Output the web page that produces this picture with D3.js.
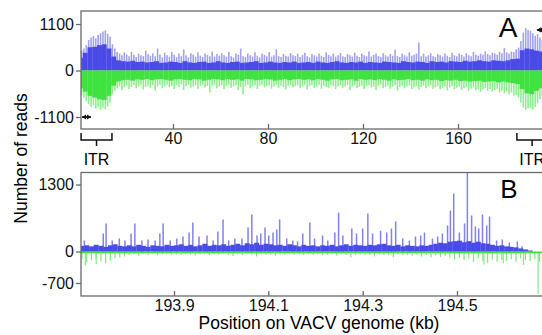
<!DOCTYPE html>
<html>
<head>
<meta charset="utf-8">
<script src="https://cdn.jsdelivr.net/npm/d3@7"></script>
<style>
  body { margin: 0; background: #fff; }
  svg { display: block; font-family: Arial, "Liberation Sans", sans-serif; }
</style>
</head>
<body>
<div id="chart"></div>
<script>
// Panel A: whole genome. Spike tops per 1 kb bin, dense core per 2 kb bin (reads)
const aTicksX = [40, 80, 120, 160];
const aTicksY = [-1100, 0, 1100];

const aPlusPeak = [
  450, 480, 520, 600, 720, 780, 820, 760, 840, 880,
  920, 950, 870, 800, 620, 520, 440, 400, 360, 430,
  380, 340, 440, 370, 320, 400, 360, 340, 470, 390,
  350, 400, 340, 520, 380, 310, 420, 360, 330, 440,
  370, 320, 400, 340, 500, 360, 310, 410, 380, 330,
  430, 350, 320, 400, 370, 340, 450, 330, 390, 350,
  410, 360, 330, 440, 340, 310, 400, 370, 520, 340,
  320, 400, 360, 330, 430, 350, 310, 400, 370, 340,
  440, 330, 360, 500, 340, 320, 390, 350, 330, 410,
  360, 340, 400, 320, 370, 420, 340, 310, 390, 360,
  330, 400, 350, 320, 430, 370, 340, 400, 330, 360,
  410, 340, 320, 390, 360, 330, 420, 350, 320, 400,
  360, 340, 450, 330, 370, 400, 340, 320, 410, 360,
  330, 390, 350, 490, 340, 320, 400, 360, 330, 430,
  350, 370, 400, 660, 340, 400, 330, 360, 410, 340,
  320, 390, 360, 330, 400, 350, 320, 420, 360, 340,
  400, 370, 330, 410, 360, 340, 440, 380, 350, 400,
  370, 450, 390, 360, 420, 400, 370, 440, 410, 530,
  430, 400, 450, 440, 500, 540, 700, 900, 1000, 960,
  940, 880, 820, 860, 780, 720
];
const aPlusCore = [
  300, 420, 550, 560, 600, 620, 520, 330, 240, 220,
  210, 230, 200, 210, 190, 200, 220, 180, 190, 210,
  200, 180, 220, 190, 180, 200, 210, 180, 190, 220,
  190, 180, 200, 210, 180, 190, 200, 220, 180, 190,
  210, 190, 180, 200, 190, 210, 180, 190, 200, 180,
  210, 190, 180, 200, 220, 190, 180, 200, 190, 210,
  180, 200, 190, 180, 210, 200, 190, 180, 220, 200,
  190, 210, 200, 180, 220, 200, 210, 190, 220, 210,
  200, 230, 210, 220, 240, 220, 210, 240, 230, 220,
  240, 270, 280, 480, 520, 500, 470, 450
];
const aMinusPeak = [
  -560, -600, -640, -720, -800, -860, -820, -900, -860, -930,
  -880, -920, -850, -760, -560, -480, -420, -380, -460, -400,
  -360, -440, -390, -350, -420, -380, -340, -450, -390, -360,
  -410, -350, -480, -380, -340, -420, -370, -330, -400, -360,
  -440, -350, -390, -330, -460, -370, -340, -410, -380, -350,
  -430, -360, -340, -400, -370, -520, -360, -340, -420, -380,
  -350, -440, -370, -340, -410, -380, -350, -460, -390, -570,
  -370, -340, -420, -380, -350, -440, -360, -340, -400, -370,
  -350, -430, -380, -340, -410, -360, -390, -450, -360, -340,
  -400, -370, -350, -420, -380, -340, -450, -370, -350, -410,
  -380, -340, -430, -360, -390, -420, -350, -370, -440, -380,
  -350, -410, -370, -340, -460, -380, -350, -420, -390, -360,
  -440, -370, -350, -400, -380, -460, -360, -340, -420, -390,
  -360, -430, -380, -350, -470, -390, -360, -420, -380, -350,
  -440, -400, -370, -450, -390, -360, -420, -380, -350, -430,
  -400, -370, -450, -420, -380, -470, -400, -370, -440, -410,
  -380, -460, -420, -390, -480, -430, -400, -470, -440, -500,
  -450, -420, -480, -440, -500, -460, -430, -520, -480, -540,
  -500, -560, -520, -600, -580, -640, -760, -880, -930, -900,
  -880, -920, -860, -780, -680, -620
];
const aMinusCore = [
  -420, -500, -600, -640, -680, -700, -600, -360, -260, -230,
  -220, -240, -210, -220, -200, -230, -210, -200, -220, -240,
  -210, -200, -220, -230, -200, -210, -240, -220, -200, -210,
  -230, -200, -220, -210, -240, -200, -210, -230, -220, -200,
  -210, -240, -220, -200, -230, -210, -200, -220, -210, -230,
  -200, -220, -240, -210, -200, -230, -220, -210, -240, -200,
  -220, -210, -230, -200, -220, -240, -210, -230, -220, -200,
  -230, -220, -240, -210, -230, -220, -250, -230, -240, -220,
  -250, -240, -260, -250, -240, -270, -260, -250, -280, -260,
  -280, -300, -320, -440, -540, -560, -480, -420
];
const itrRegions = [[1.3, 14.3], [184.8, 197.6]];
const aArrows = [
  { from: 1.7, to: 5.5, reads: -1100 },
  { from: 193.2, to: 196.5, reads: 960 }
];

// Panel B: zoom on the right end, base coverage per 0.01 kb bin plus single peaks
const bTicksX = [193.9, 194.1, 194.3, 194.5];
const bTicksY = [-700, 0, 1300];
const bBinStart = 193.70;
const bBinSize = 0.01;
const bPlusBase = [
  110, 120, 100, 130, 110, 90, 120, 140, 110, 100,
  120, 100, 130, 110, 90, 120, 110, 100, 130, 110,
  120, 140, 110, 130, 100, 120, 150, 110, 130, 120,
  140, 110, 130, 150, 120, 160, 140, 170, 130, 150,
  140, 120, 130, 110, 140, 120, 100, 130, 110, 120,
  100, 120, 110, 130, 100, 120, 140, 110, 130, 120,
  110, 130, 120, 140, 150, 120, 110, 130, 100, 120,
  110, 100, 120, 110, 130, 150, 170, 160, 190, 200,
  210, 180, 200, 170, 190, 160, 150, 130, 110, 120,
  100, 90, 80, 60, 40, 20
];
const bMinusBase = [
  -180, -240, -200, -160, -220, -260, -200, -150, -130, -110,
  -80, -60, -90, -50, -70, -40, -80, -60, -50, -70,
  -60, -80, -50, -70, -90, -60, -50, -80, -60, -70,
  -50, -70, -100, -60, -80, -50, -70, -110, -60, -80,
  -70, -90, -60, -80, -50, -70, -60, -80, -50, -70,
  -60, -80, -70, -50, -90, -60, -80, -130, -70, -60,
  -80, -70, -110, -60, -80, -70, -120, -60, -80, -70,
  -90, -70, -110, -80, -130, -90, -120, -100, -140, -180,
  -140, -190, -160, -230, -150, -210, -250, -170, -230, -190,
  -210, -170, -230, -150, -190, -210, -170, -230, -190, -140
];
const bSpikePos = [
  193.710, 193.750, 193.756, 193.769, 193.784, 193.796, 193.809, 193.817, 193.832, 193.845,
  193.860, 193.870, 193.877, 193.892, 193.906, 193.919, 193.932, 193.940, 193.953, 193.970,
  193.983, 193.993, 194.004, 194.016, 194.029, 194.044, 194.057, 194.065, 194.076, 194.084,
  194.093, 194.101, 194.110, 194.118, 194.124, 194.139, 194.152, 194.162, 194.173, 194.188,
  194.198, 194.215, 194.226, 194.241, 194.249, 194.258, 194.277, 194.287, 194.300, 194.311,
  194.321, 194.338, 194.351, 194.361, 194.370, 194.385, 194.399, 194.412, 194.423, 194.431,
  194.448, 194.459, 194.469, 194.480, 194.486, 194.493, 194.505, 194.516, 194.522, 194.531,
  194.539, 194.546, 194.554, 194.563, 194.569, 194.584, 194.596, 194.611, 194.628, 194.638
];
const bSpikeVal = [
  215, 350, 545, 215, 250, 215, 350, 545, 215, 235,
  215, 350, 545, 215, 250, 290, 370, 565, 290, 310,
  215, 390, 620, 215, 250, 250, 465, 720, 310, 350,
  465, 310, 370, 425, 620, 250, 215, 195, 350, 565,
  250, 310, 215, 370, 755, 310, 445, 350, 445, 735,
  350, 405, 370, 445, 580, 250, 215, 290, 310, 370,
  250, 290, 350, 505, 795, 1125, 370, 545, 1530, 700,
  485, 445, 720, 505, 680, 215, 235, 175, 195, 100
];
const bMinusSpikePos = [193.712, 193.735, 194.557, 194.598, 194.641, 194.672];
const bMinusSpikeVal = [-310, -280, -290, -260, -300, -940];

const W = 542, H = 335;
const boxA = { left: 81, right: 560, top: 11, bottom: 129 };
const boxB = { left: 81, right: 560, top: 172.5, bottom: 296 };

const svg = d3.select('#chart').append('svg')
  .attr('width', W)
  .attr('height', H);

const xA = d3.scaleLinear().domain([0, 200]).range([78, 553]);
const yA = d3.scaleLinear().domain([-1100, 1100]).range([117, 24]);
const xB = d3.scaleLinear().domain([193.9, 194.5]).range([174, 457]);
const yB = d3.scaleLinear().domain([-700, 0, 1300]).range([283, 251.5, 184.5]);

const defs = svg.append('defs');
[['clipA', boxA], ['clipB', boxB]].forEach(([id, b]) => {
  defs.append('clipPath').attr('id', id)
    .append('rect')
    .attr('x', b.left).attr('y', b.top)
    .attr('width', b.right - b.left).attr('height', b.bottom - b.top);
});

// ---- panel A bars: thin light spikes, solid core on top
const gA = svg.append('g').attr('clip-path', 'url(#clipA)');
const binA = xA(1) - xA(0);

gA.selectAll('.a-plus-peak').data(aPlusPeak).join('line')
  .attr('x1', (d, i) => xA(i) + binA / 2).attr('x2', (d, i) => xA(i) + binA / 2)
  .attr('y1', yA(0)).attr('y2', d => yA(d))
  .attr('stroke', '#a2a2f1').attr('stroke-width', 1.6);
gA.selectAll('.a-minus-peak').data(aMinusPeak).join('line')
  .attr('x1', (d, i) => xA(i) + binA / 2).attr('x2', (d, i) => xA(i) + binA / 2)
  .attr('y1', yA(0)).attr('y2', d => yA(d))
  .attr('stroke', '#8eee8e').attr('stroke-width', 1.6);
gA.selectAll('.a-plus-core').data(aPlusCore).join('rect')
  .attr('x', (d, i) => xA(2 * i)).attr('width', 2 * binA + 0.2)
  .attr('y', d => yA(d)).attr('height', d => yA(0) - yA(d))
  .attr('fill', '#4a4ae6');
gA.selectAll('.a-minus-core').data(aMinusCore).join('rect')
  .attr('x', (d, i) => xA(2 * i)).attr('width', 2 * binA + 0.2)
  .attr('y', yA(0)).attr('height', d => yA(d) - yA(0))
  .attr('fill', '#3fe23f');

// ---- panel B bars
const gB = svg.append('g').attr('clip-path', 'url(#clipB)');
const binB = xB(bBinStart + bBinSize) - xB(bBinStart);

gB.selectAll('.b-minus').data(bMinusBase).join('line')
  .attr('x1', (d, i) => xB(bBinStart + i * bBinSize) + binB / 2)
  .attr('x2', (d, i) => xB(bBinStart + i * bBinSize) + binB / 2)
  .attr('y1', yB(0)).attr('y2', d => yB(d))
  .attr('stroke', '#7aea7a').attr('stroke-width', 1.2);
gB.selectAll('.b-minus-spike').data(bMinusSpikeVal).join('line')
  .attr('x1', (d, i) => xB(bMinusSpikePos[i]))
  .attr('x2', (d, i) => xB(bMinusSpikePos[i]))
  .attr('y1', yB(0)).attr('y2', d => yB(d))
  .attr('stroke', '#86ea86').attr('stroke-width', 1.2);
gB.append('rect')
  .attr('x', boxB.left).attr('width', xB(194.70) - boxB.left)
  .attr('y', yB(0)).attr('height', yB(-40) - yB(0))
  .attr('fill', '#44e044');

gB.selectAll('.b-spike').data(bSpikeVal).join('line')
  .attr('x1', (d, i) => xB(bSpikePos[i]))
  .attr('x2', (d, i) => xB(bSpikePos[i]))
  .attr('y1', yB(0)).attr('y2', d => yB(d))
  .attr('stroke', '#8282ee').attr('stroke-width', 1.5);
gB.selectAll('.b-plus').data(bPlusBase).join('rect')
  .attr('x', (d, i) => xB(bBinStart + i * bBinSize)).attr('width', binB + 0.2)
  .attr('y', d => yB(d)).attr('height', d => yB(0) - yB(d))
  .attr('fill', '#4a4ae6');

// ---- frames and axes
function frame(b) {
  svg.append('rect')
    .attr('x', b.left).attr('y', b.top)
    .attr('width', b.right - b.left).attr('height', b.bottom - b.top)
    .attr('fill', 'none').attr('stroke', '#6a6a6a').attr('stroke-width', 1.3);
}
frame(boxA);
frame(boxB);

function styleAxis(g) {
  g.select('.domain').remove();
  g.selectAll('.tick line').attr('stroke', '#6a6a6a').attr('stroke-width', 1.3);
  g.selectAll('.tick text').attr('fill', '#111').style('font-size', '16px');
}
const plain = d => String(d);

svg.append('g').attr('transform', `translate(${boxA.left},0)`)
  .call(d3.axisLeft(yA).tickValues(aTicksY).tickFormat(plain).tickSize(5).tickPadding(2))
  .call(styleAxis);
svg.append('g').attr('transform', `translate(0,${boxA.bottom})`)
  .call(d3.axisBottom(xA).tickValues(aTicksX).tickFormat(plain).tickSize(-5).tickPadding(4))
  .call(styleAxis);
svg.append('g').attr('transform', `translate(${boxB.left},0)`)
  .call(d3.axisLeft(yB).tickValues(bTicksY).tickFormat(plain).tickSize(5).tickPadding(2))
  .call(styleAxis);
svg.append('g').attr('transform', `translate(0,${boxB.bottom})`)
  .call(d3.axisBottom(xB).tickValues(bTicksX).tickFormat(d => d.toFixed(1)).tickSize(-5).tickPadding(4))
  .call(styleAxis);

// ITR brackets under panel A
itrRegions.forEach(([s, e]) => {
  const x0 = xA(s), x1 = xA(e), xm = (x0 + x1) / 2;
  svg.append('path')
    .attr('d', `M${x0},133V140H${x1}V133M${xm},140V146`)
    .attr('fill', 'none').attr('stroke', '#111').attr('stroke-width', 1.5);
  svg.append('text')
    .attr('x', xm).attr('y', 164.5)
    .attr('text-anchor', 'middle')
    .style('font-size', '16px')
    .text('ITR');
});

// double-headed arrows in panel A
aArrows.forEach(a => {
  const x0 = xA(a.from), x1 = xA(a.to), y = yA(a.reads);
  svg.append('line')
    .attr('x1', x0).attr('x2', x1).attr('y1', y).attr('y2', y)
    .attr('stroke', '#111').attr('stroke-width', 1.6);
  svg.append('path')
    .attr('d', `M${x0},${y}l4,-2.6v5.2zM${x1},${y}l-4,-2.6v5.2z`)
    .attr('fill', '#111');
});

svg.append('text')
  .attr('x', 508).attr('y', 36.5)
  .attr('text-anchor', 'middle')
  .style('font-size', '28px')
  .text('A');
svg.append('text')
  .attr('x', 509).attr('y', 198)
  .attr('text-anchor', 'middle')
  .style('font-size', '26px')
  .text('B');

svg.append('text')
  .attr('x', 319).attr('y', 329)
  .attr('text-anchor', 'middle')
  .style('font-size', '17.5px')
  .text('Position on VACV genome (kb)');
svg.append('text')
  .attr('transform', 'translate(26.5,158.5) rotate(-90)')
  .attr('text-anchor', 'middle')
  .style('font-size', '17.5px')
  .text('Number of reads');
</script>
</body>
</html>
